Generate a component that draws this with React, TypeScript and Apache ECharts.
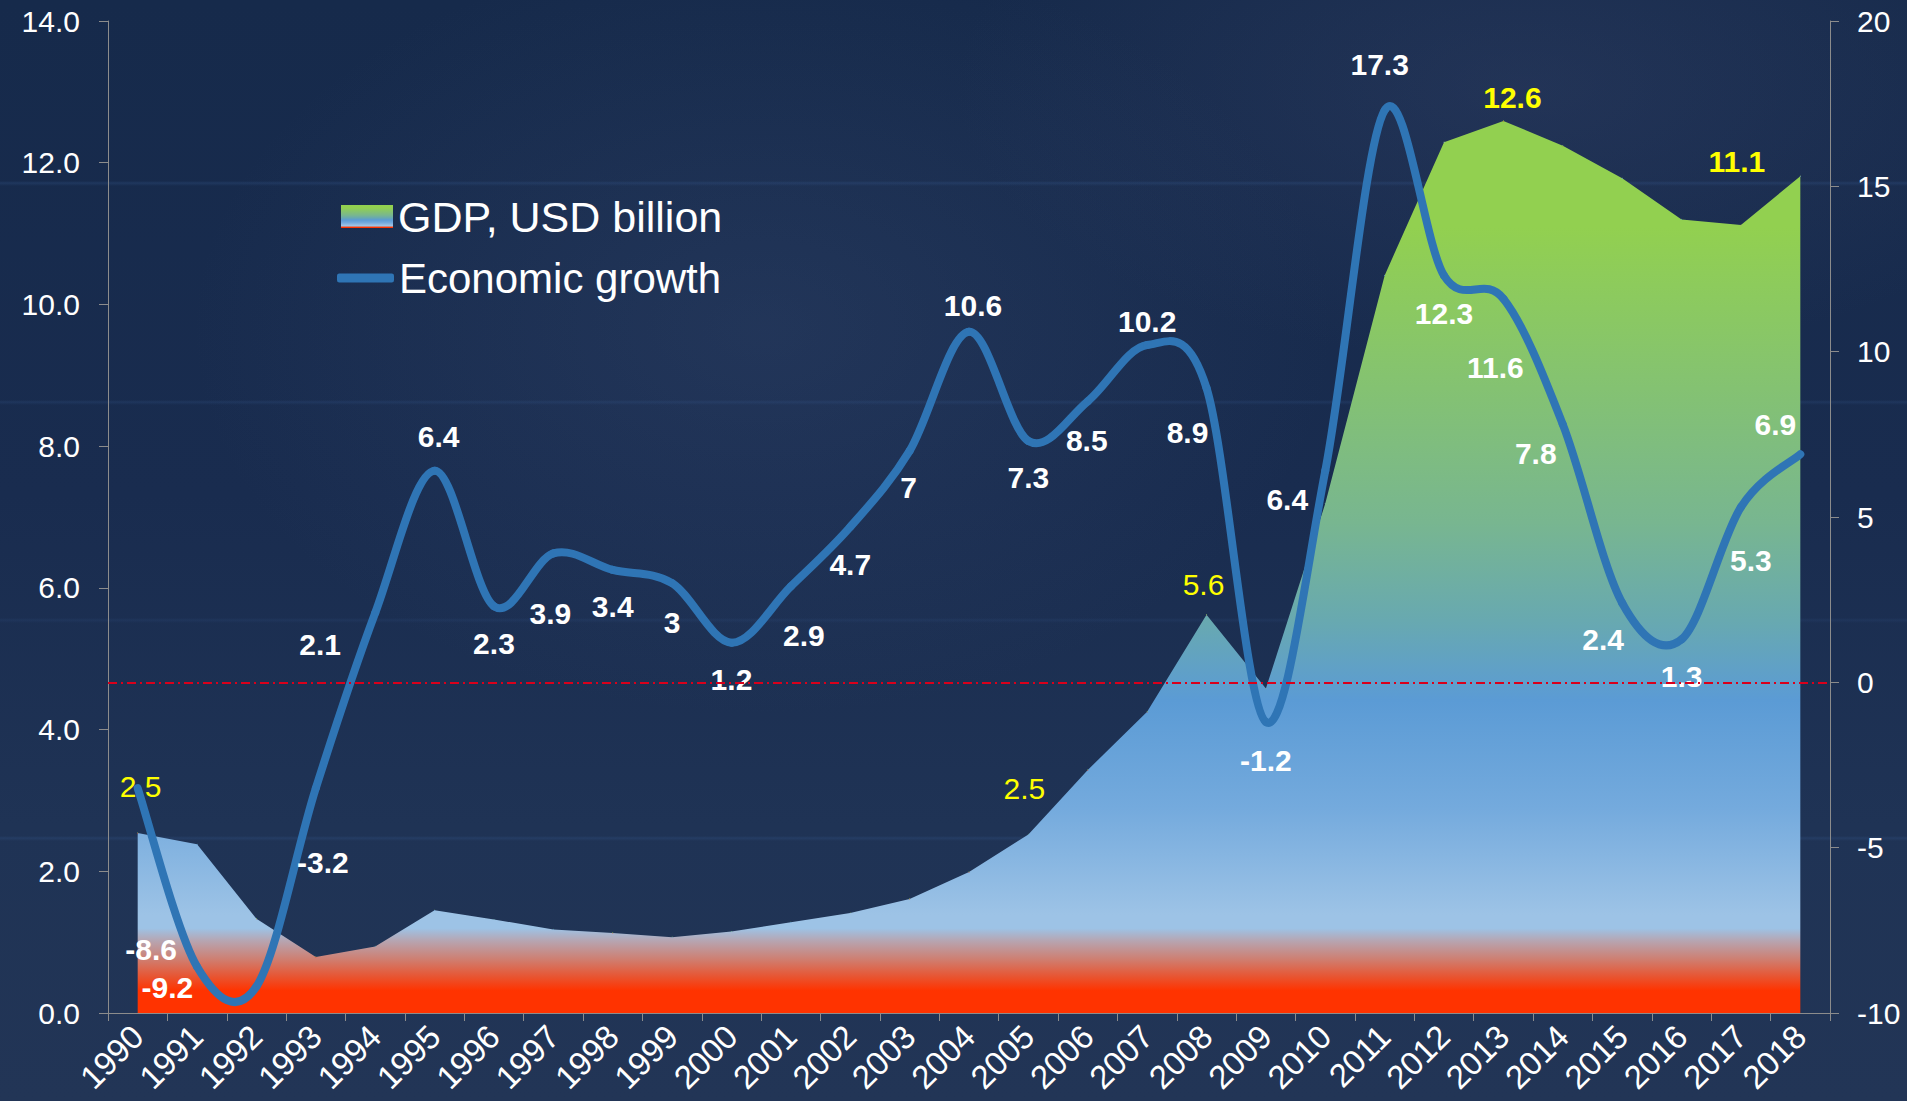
import React, { useEffect, useRef } from 'react';
import * as echarts from 'echarts';

// ---------------- data ----------------
const years = [
  '1990', '1991', '1992', '1993', '1994', '1995', '1996', '1997', '1998', '1999',
  '2000', '2001', '2002', '2003', '2004', '2005', '2006', '2007', '2008', '2009',
  '2010', '2011', '2012', '2013', '2014', '2015', '2016', '2017', '2018',
];
// GDP, USD billion (left axis)
const gdpValues = [
  2.54, 2.38, 1.33, 0.79, 0.94, 1.45, 1.32, 1.18, 1.13, 1.07,
  1.15, 1.28, 1.41, 1.61, 1.99, 2.52, 3.43, 4.25, 5.62, 4.58,
  7.19, 10.41, 12.29, 12.59, 12.24, 11.78, 11.2, 11.12, 11.81,
];
// Economic growth, % (right axis)
const growthValues = [
  -3.2, -8.6, -9.2, -3.2, 2.1, 6.4, 2.3, 3.9, 3.4, 3,
  1.2, 2.9, 4.7, 7, 10.6, 7.3, 8.5, 10.2, 8.9, -1.2,
  6.4, 17.3, 12.3, 11.6, 7.8, 2.4, 1.3, 5.3, 6.9,
];
const gdpLabelYears = ['1990', '2005', '2008', '2013', '2017'];
const gdpBoldYears = ['2013', '2017'];
const growthUnlabelledYears = ['1990'];
const leftAxis = { min: 0, max: 14, interval: 2 };
const rightAxis = { min: -10, max: 20, interval: 5 };

// ---------------- layout (label offsets in px, relative to the point) ----------------
const growthLabelOffsets: [number, number][] = [
  [0, 0], [-46, -17], [-89, 1], [7, 74], [-55, 32], [4, -34], [0, 37], [-3, 60], [0, 37], [0, 39],
  [0, 37], [13, 49], [0, 38], [-1, 37], [4, -26], [0, 37], [-1, 39], [0, -24], [-19, 44], [0, 38],
  [-38, 29], [-5, -46], [0, 38], [-8, 69], [-27, 29], [-19, 37], [0, 37], [10, 53], [-25, -30],
];
const gdpLabelOffsets: Record<string, [number, number]> = {
  '1990': [3, -47],
  '2005': [-4, -46],
  '2008': [-3, -30],
  '2013': [9, -23],
  '2017': [-4, -64],
};

const FONT = 'Arial, "Liberation Sans", sans-serif';
const LINE_COLOR = '#2f75b5';

export default function App() {
  const ref = useRef<HTMLDivElement>(null);

  useEffect(() => {
    document.body.style.margin = '0';
    if (!ref.current) return;
    const chart = echarts.init(ref.current, null, { renderer: 'svg' });

    const makeGradient = () =>
      new echarts.graphic.LinearGradient(0, 0, 0, 1, [
        { offset: 0, color: '#92d050' },
        { offset: 0.12, color: '#92d050' },
        { offset: 0.3, color: '#84c272' },
        { offset: 0.45, color: '#78b690' },
        { offset: 0.56, color: '#68a9b0' },
        { offset: 0.65, color: '#5b9bd5' },
        { offset: 0.77, color: '#74aadd' },
        { offset: 0.89, color: '#9dc3e6' },
        { offset: 0.905, color: '#9dc3e6' },
        { offset: 0.918, color: '#b5a7b5' },
        { offset: 0.94, color: '#cf7e70' },
        { offset: 0.96, color: '#e9532f' },
        { offset: 0.975, color: '#ff3300' },
        { offset: 1, color: '#ff3300' },
      ]);

    const gdpData = gdpValues.map((v, i) => {
      const y = years[i];
      const off = gdpLabelOffsets[y];
      if (off && gdpLabelYears.includes(y)) {
        return {
          value: v,
          label: {
            show: true,
            offset: off,
            fontWeight: gdpBoldYears.includes(y) ? 'bold' : 'normal',
          },
        };
      }
      return { value: v, label: { show: false } };
    });

    const growthData = growthValues.map((v, i) => {
      const y = years[i];
      if (growthUnlabelledYears.includes(y)) return { value: v, label: { show: false } };
      return { value: v, label: { show: true, offset: growthLabelOffsets[i] } };
    });

    const n = growthValues.length;
    // smooth curve (cardinal spline through the data points, mapped by the axes)
    const renderCurve = (params: any, api: any) => {
      const i = params.dataIndex;
      if (i >= n - 1) return null;
      const pt = (k: number) => api.coord([api.value(0, k), api.value(1, k)]);
      const p0 = pt(Math.max(i - 1, 0));
      const p1 = pt(i);
      const p2 = pt(i + 1);
      const p3 = pt(Math.min(i + 2, n - 1));
      const t = 1 / 6;
      return {
        type: 'bezierCurve',
        shape: {
          x1: p1[0],
          y1: p1[1],
          x2: p2[0],
          y2: p2[1],
          cpx1: p1[0] + (p2[0] - p0[0]) * t,
          cpy1: p1[1] + (p2[1] - p0[1]) * t,
          cpx2: p2[0] - (p3[0] - p1[0]) * t,
          cpy2: p2[1] - (p3[1] - p1[1]) * t,
        },
        style: { stroke: LINE_COLOR, lineWidth: 8, lineCap: 'round', fill: null },
        silent: true,
      };
    };

    const option: any = {
      animation: false,
      backgroundColor: 'transparent',
      grid: { left: 108, right: 77, top: 21, bottom: 88, containLabel: false },
      legend: [
        {
          orient: 'vertical',
          left: 341,
          top: 195,
          padding: 0,
          itemWidth: 52,
          itemHeight: 23,
          itemGap: 7,
          selectedMode: false,
          data: [{ name: 'GDP, USD billion', icon: 'rect' }],
          textStyle: { color: '#ffffff', fontSize: 43, fontFamily: FONT },
        },
        {
          orient: 'vertical',
          left: 337,
          top: 257,
          padding: 0,
          itemWidth: 57,
          itemHeight: 9,
          selectedMode: false,
          data: [{ name: 'Economic growth', icon: 'roundRect' }],
          textStyle: { color: '#ffffff', fontSize: 42, fontFamily: FONT },
        },
      ],
      xAxis: {
        type: 'category',
        data: years,
        boundaryGap: true,
        axisLine: { lineStyle: { color: '#8c8c8c', width: 1 } },
        axisTick: { show: true, length: 8, lineStyle: { color: '#8c8c8c' } },
        axisLabel: {
          interval: 0,
          rotate: 45,
          margin: 18,
          color: '#ffffff',
          fontSize: 33,
          fontFamily: FONT,
        },
        splitLine: { show: false },
      },
      yAxis: [
        {
          type: 'value',
          min: leftAxis.min,
          max: leftAxis.max,
          interval: leftAxis.interval,
          position: 'left',
          axisLine: { show: true, lineStyle: { color: '#8c8c8c', width: 1 } },
          axisTick: { show: true, length: 9, lineStyle: { color: '#8c8c8c' } },
          axisLabel: {
            margin: 28,
            color: '#ffffff',
            fontSize: 30,
            fontFamily: FONT,
            formatter: (v: number) => v.toFixed(1),
          },
          splitLine: { show: false },
        },
        {
          type: 'value',
          min: rightAxis.min,
          max: rightAxis.max,
          interval: rightAxis.interval,
          position: 'right',
          axisLine: { show: true, lineStyle: { color: '#8c8c8c', width: 1 } },
          axisTick: { show: true, length: 9, lineStyle: { color: '#8c8c8c' } },
          axisLabel: {
            margin: 27,
            color: '#ffffff',
            fontSize: 30,
            fontFamily: FONT,
          },
          splitLine: { show: false },
        },
      ],
      series: [
        {
          name: 'GDP, USD billion',
          type: 'line',
          yAxisIndex: 0,
          data: gdpData,
          symbol: 'circle',
          symbolSize: 1,
          showSymbol: true,
          showAllSymbol: true,
          itemStyle: { color: makeGradient() },
          lineStyle: { width: 0, opacity: 0 },
          areaStyle: { color: makeGradient(), opacity: 1 },
          label: {
            show: false,
            position: 'inside',
            color: '#ffff00',
            fontSize: 30,
            fontFamily: FONT,
            formatter: (p: any) => Number(p.value).toFixed(1),
          },
          emphasis: { disabled: true },
          silent: true,
          z: 1,
        },
        {
          name: 'growthCurve',
          type: 'custom',
          yAxisIndex: 1,
          data: growthValues.map((v, i) => [i, v]),
          encode: { x: 0, y: 1 },
          renderItem: renderCurve,
          silent: true,
          z: 2,
        },
        {
          name: 'Economic growth',
          type: 'line',
          yAxisIndex: 1,
          data: growthData,
          symbol: 'circle',
          symbolSize: 1,
          showSymbol: true,
          showAllSymbol: true,
          itemStyle: { color: LINE_COLOR },
          lineStyle: { color: LINE_COLOR, width: 0, opacity: 0 },
          label: {
            show: true,
            position: 'inside',
            color: '#ffffff',
            fontSize: 30,
            fontWeight: 'bold',
            fontFamily: FONT,
            formatter: (p: any) => String(p.value),
          },
          markLine: {
            silent: true,
            symbol: ['none', 'none'],
            label: { show: false },
            lineStyle: { color: '#d9001b', width: 2, opacity: 1, type: [9, 4, 2, 4] },
            data: [{ yAxis: 0 }],
          },
          emphasis: { disabled: true },
          silent: true,
          z: 3,
        },
      ],
    };

    chart.setOption(option);
    return () => chart.dispose();
  }, []);

  const faintLine = (y: number, a: number) =>
    `linear-gradient(180deg, rgba(0,0,0,0) ${y - 2}px, rgba(60,100,160,${a}) ${y}px, rgba(0,0,0,0) ${y + 3}px)`;

  return (
    <div
      ref={ref}
      style={{
        position: 'absolute',
        left: 0,
        top: 0,
        width: 1907,
        height: 1101,
        background:
          faintLine(183, 0.22) + ',' +
          faintLine(402, 0.18) + ',' +
          faintLine(620, 0.12) + ',' +
          faintLine(838, 0.2) + ',' +
          'radial-gradient(ellipse 30% 35% at 40% 30%, rgba(70,90,130,0.22), rgba(0,0,0,0) 100%),' +
          'radial-gradient(ellipse 30% 25% at 80% 8%, rgba(70,80,120,0.25), rgba(0,0,0,0) 100%),' +
          'linear-gradient(180deg, #162a4b 0%, #192c4f 45%, #1f3355 75%, #223556 100%)',
      }}
    />
  );
}
